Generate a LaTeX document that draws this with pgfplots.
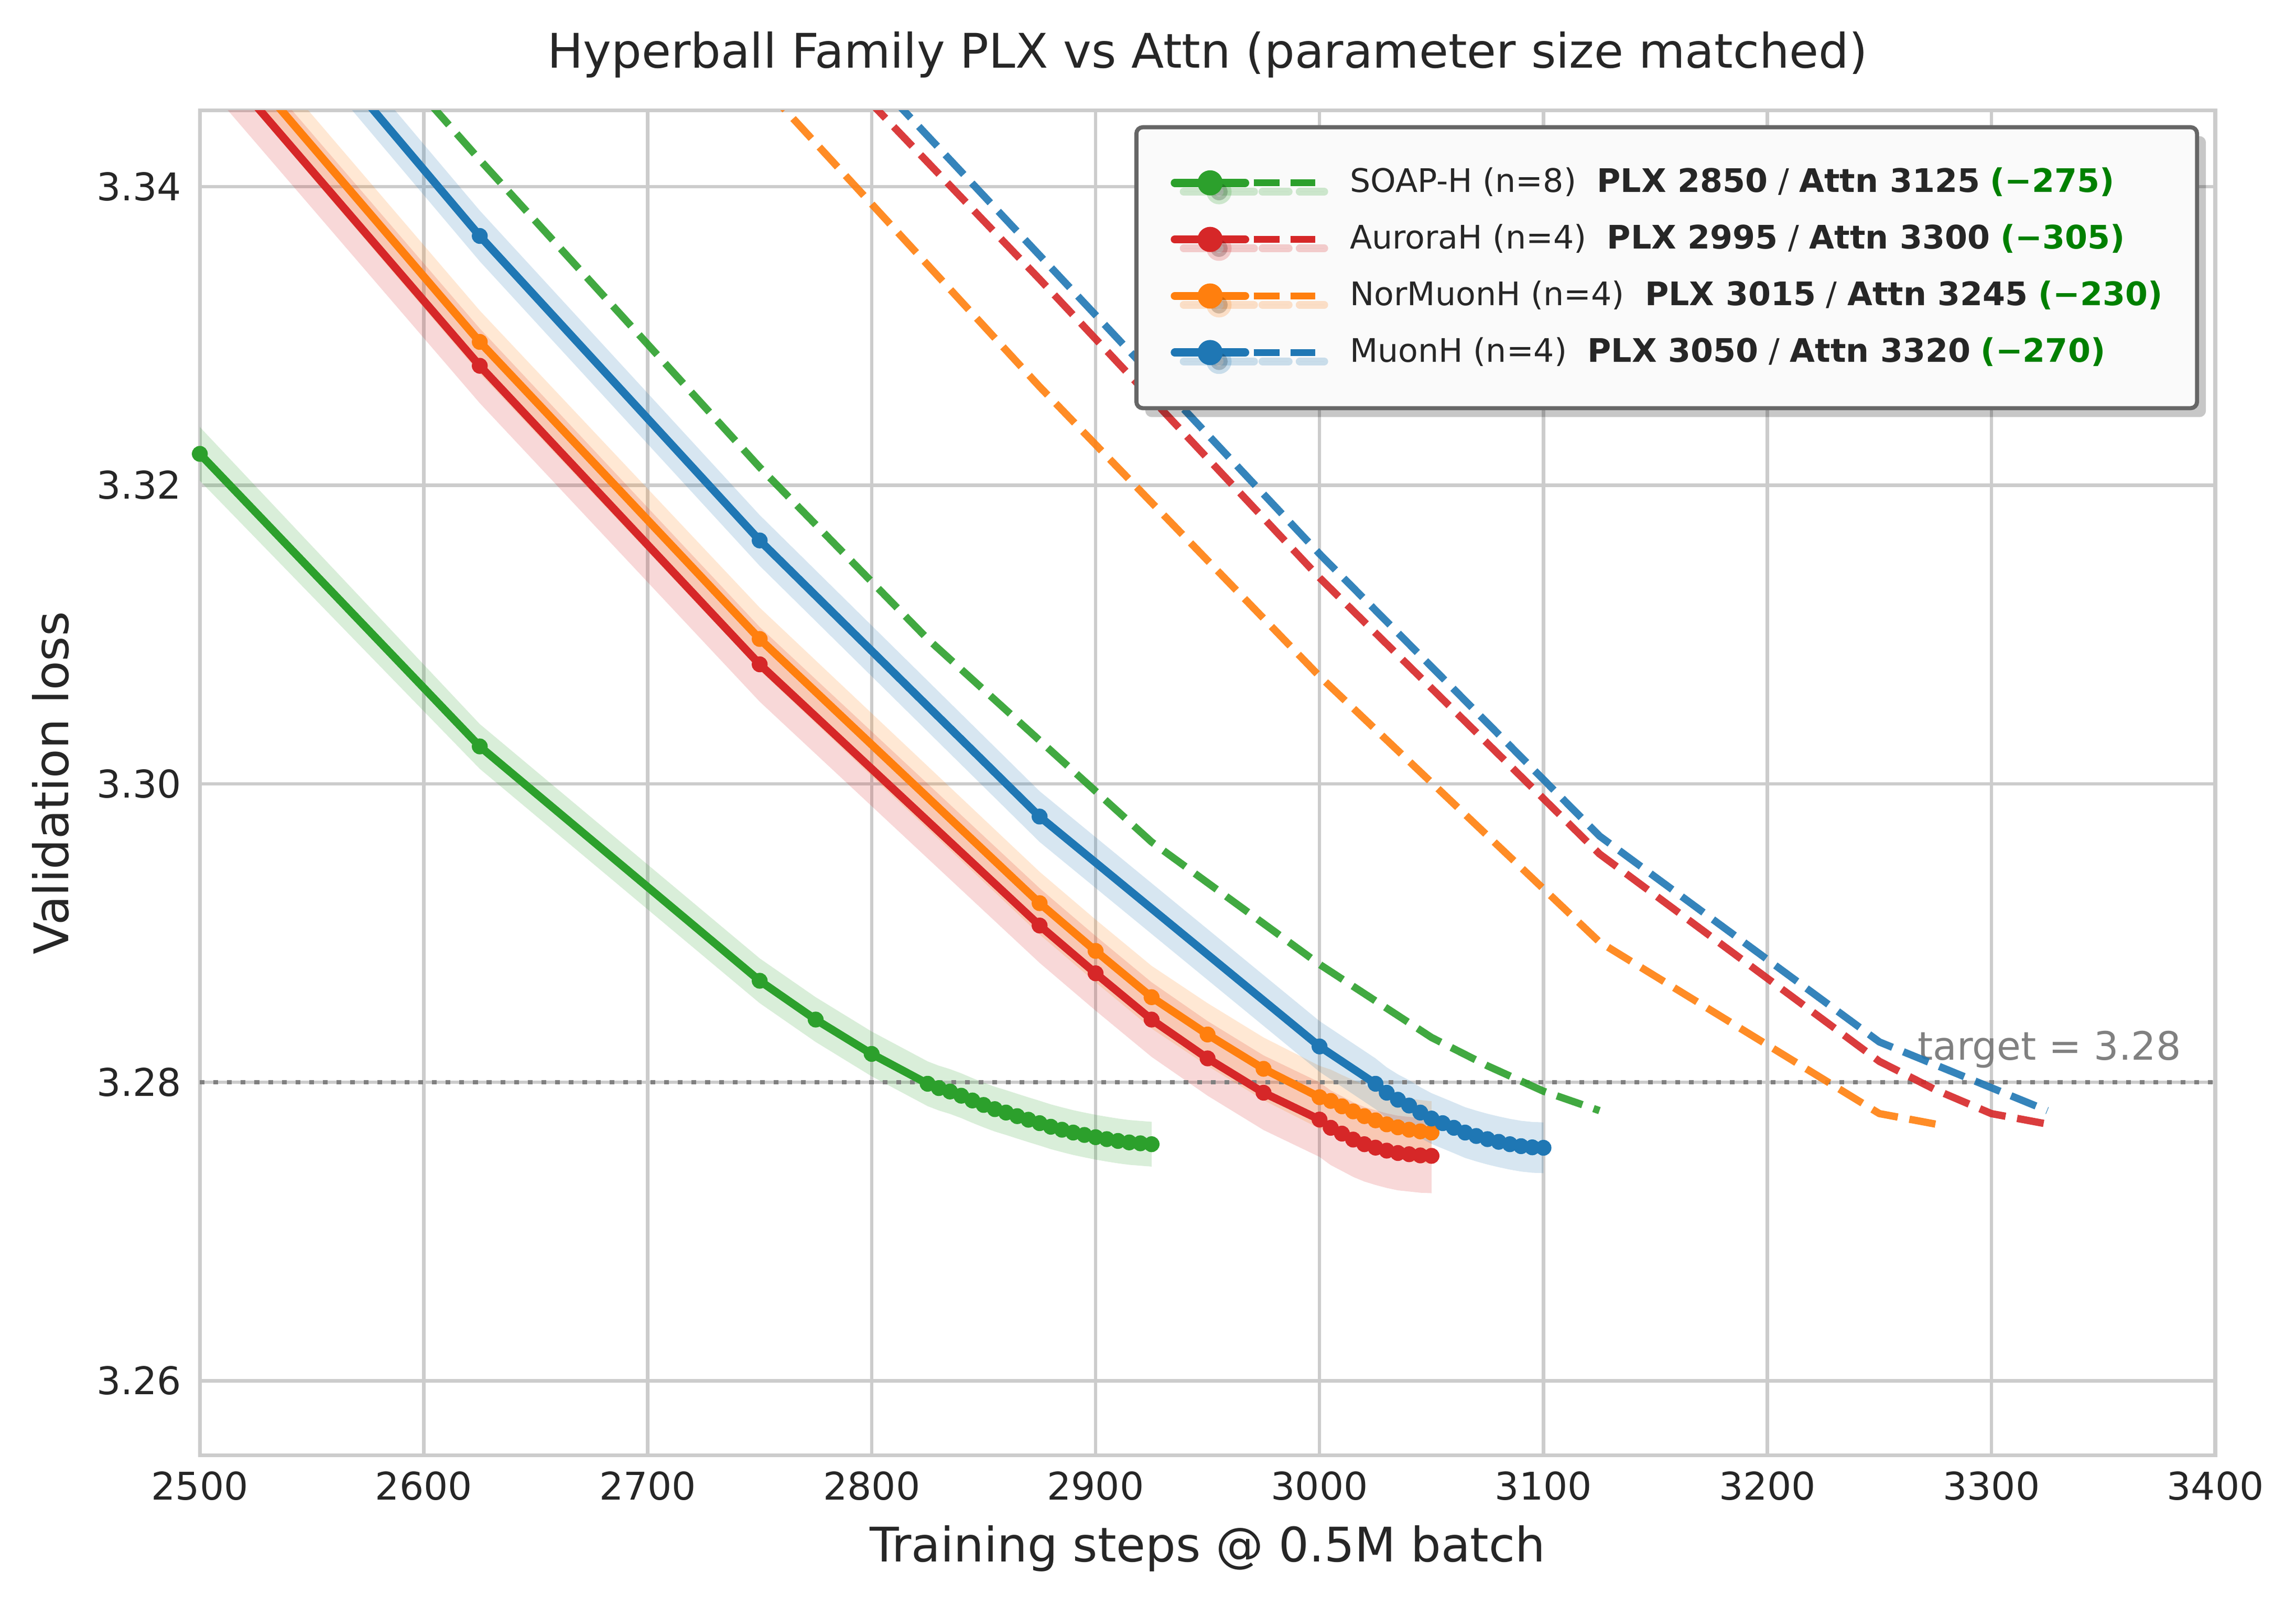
\documentclass[border=0pt]{standalone}
\usepackage{fontspec}
\setmainfont{DejaVu Sans}
\usepackage{pgfplots}
\usepackage{pgfplotstable}
\pgfplotsset{compat=1.18}
\usepgfplotslibrary{fillbetween}
\usetikzlibrary{shadows}
\definecolor{cgreen}{HTML}{2CA02C}
\definecolor{cred}{HTML}{D62728}
\definecolor{corange}{HTML}{FF7F0E}
\definecolor{cblue}{HTML}{1F77B4}
\definecolor{okgreen}{HTML}{008000}
\definecolor{txt}{HTML}{262626}
\definecolor{gridc}{HTML}{CCCCCC}
\definecolor{tgray}{HTML}{808080}

% PLX runs: step, mean, band low, band high
\pgfplotstableread{
s m lo hi
2500 3.3221 3.3203 3.3239
2625 3.3025 3.3010 3.3040
2750 3.2868 3.2853 3.2883
2775 3.2842 3.2827 3.2857
2800 3.2819 3.2804 3.2834
2825 3.2799 3.2784 3.2814
2830 3.27961 3.27811 3.28111
2835 3.27938 3.27788 3.28088
2840 3.27910 3.27760 3.28060
2845 3.27878 3.27728 3.28028
2850 3.27848 3.27698 3.27998
2855 3.27820 3.27670 3.27970
2860 3.27797 3.27647 3.27947
2865 3.27773 3.27623 3.27923
2870 3.27749 3.27599 3.27899
2875 3.27726 3.27576 3.27876
2880 3.27702 3.27552 3.27852
2885 3.27682 3.27532 3.27832
2890 3.27663 3.27513 3.27813
2895 3.27647 3.27497 3.27797
2900 3.27632 3.27482 3.27782
2905 3.27619 3.27469 3.27769
2910 3.27607 3.27457 3.27757
2915 3.27597 3.27447 3.27747
2920 3.27591 3.27441 3.27741
2925 3.27585 3.27435 3.27735
}\soapplx

\pgfplotstableread{
s m lo hi
2500 3.3498 3.3473 3.3523
2625 3.3280 3.3255 3.3305
2750 3.3080 3.3055 3.3105
2875 3.2905 3.2880 3.2930
2900 3.2873 3.2848 3.2898
2925 3.2842 3.2817 3.2867
2950 3.2816 3.2791 3.2841
2975 3.2793 3.2768 3.2818
3000 3.2775 3.2750 3.2800
3005 3.27695 3.27445 3.27945
3010 3.27656 3.27406 3.27906
3015 3.27616 3.27366 3.27866
3020 3.27585 3.27335 3.27835
3025 3.27562 3.27312 3.27812
3030 3.27542 3.27292 3.27792
3035 3.27526 3.27276 3.27776
3040 3.27518 3.27268 3.27768
3045 3.27510 3.27260 3.27760
3050 3.27507 3.27257 3.27757
}\auroraplx

\pgfplotstableread{
s m lo hi
2500 3.3515 3.3494 3.3536
2625 3.3296 3.3275 3.3317
2750 3.3097 3.3076 3.3118
2875 3.2920 3.2899 3.2941
2900 3.2888 3.2867 3.2909
2925 3.2857 3.2836 3.2878
2950 3.2832 3.2811 3.2853
2975 3.2809 3.2788 3.2830
3000 3.2790 3.2769 3.2811
3005 3.27875 3.27665 3.28085
3010 3.27839 3.27629 3.28049
3015 3.27805 3.27595 3.28015
3020 3.27773 3.27563 3.27983
3025 3.27745 3.27535 3.27955
3030 3.27718 3.27508 3.27928
3035 3.27698 3.27488 3.27908
3040 3.27682 3.27472 3.27892
3045 3.27671 3.27461 3.27881
3050 3.27663 3.27453 3.27873
}\normuonplx

\pgfplotstableread{
s m lo hi
2500 3.3589 3.3572 3.3606
2625 3.3367 3.3350 3.3384
2750 3.3163 3.3146 3.3180
2875 3.2978 3.2961 3.2995
3000 3.2824 3.2807 3.2841
3025 3.2799 3.2782 3.2816
3030 3.2793 3.2776 3.2810
3035 3.27883 3.27713 3.28053
3040 3.27844 3.27674 3.28014
3045 3.27797 3.27627 3.27967
3050 3.27757 3.27587 3.27927
3055 3.27726 3.27556 3.27896
3060 3.27695 3.27525 3.27865
3065 3.27663 3.27493 3.27833
3070 3.27640 3.27470 3.27810
3075 3.27619 3.27449 3.27789
3080 3.27601 3.27431 3.27771
3085 3.27585 3.27415 3.27755
3090 3.27572 3.27402 3.27742
3095 3.27564 3.27394 3.27734
3100 3.27561 3.27391 3.27731
}\muonplx

% Attn baselines
\pgfplotstableread{
s m
2500 3.3630
2625 3.3418
2750 3.3212
2825 3.3097
2925 3.2961
3000 3.2879
3050 3.2830
3075 3.2811
3100 3.2794
3125 3.2781
}\soapattn

\pgfplotstableread{
s m
2750 3.3534
2875 3.3338
3000 3.3138
3125 3.2953
3250 3.2814
3275 3.2795
3300 3.2779
3325 3.2772
}\auroraattn

\pgfplotstableread{
s m
2625 3.3676
2750 3.3470
2875 3.3266
3000 3.3072
3125 3.2894
3250 3.2779
3275 3.2772
}\normuonattn

\pgfplotstableread{
s m
2750 3.3554
2875 3.3354
3000 3.3154
3125 3.2965
3250 3.2827
3325 3.2781
}\muonattn

\pgfplotsset{
  hleg/.style={legend image code/.code={
    \draw[line width=2.6pt, line cap=round, color=#1] (1.3pt,0pt) -- (23.4pt,0pt);
    \fill[color=#1] (12.4pt,0pt) circle[radius=2.7pt];
    \draw[line width=2.2pt, line cap=butt, color=#1] (26.1pt,0pt) -- (34.3pt,0pt);
    \draw[line width=2.2pt, line cap=butt, color=#1] (37.8pt,0pt) -- (45.5pt,0pt);
  }},
  plxline/.style={color=#1, line width=2.5pt, line cap=round, line join=round, mark=*, mark size=2.3pt, mark options={solid, fill=#1, draw=#1, line width=0.4pt}},
  attnline/.style={color=#1, draw opacity=0.9, line width=2.3pt, line join=round, dash pattern=on 8.5pt off 3.7pt, forget plot},
}

\begin{document}
\begin{tikzpicture}
\begin{axis}[
  at={(0pt,0pt)}, anchor=south west,
  scale only axis, width=634.4pt, height=423.2pt,
  xmin=2500, xmax=3400, ymin=3.2550, ymax=3.3451,
  xtick={2500,2600,...,3400},
  ytick={3.26,3.28,3.30,3.32,3.34},
  /pgf/number format/assume math mode=true,
  xticklabel style={/pgf/number format/1000 sep={}, anchor=base, yshift=-14pt, inner sep=0pt},
  yticklabel style={/pgf/number format/fixed, /pgf/number format/fixed zerofill, /pgf/number format/precision=2, anchor=east, xshift=-5.6pt, inner sep=0pt},
  tick label style={font=\fontsize{12}{14}\selectfont, text=txt},
  major tick length=0pt,
  tick style={draw=none},
  grid=major,
  major grid style={color=gridc, line width=1.05pt},
  axis line style={color=gridc, line width=1.2pt},
  title={Hyperball Family PLX vs Attn (parameter size matched)},
  title style={at={(0.5,1)}, anchor=base, yshift=7.4pt, inner sep=0pt, font=\fontsize{15}{18}\selectfont, text=txt},
  xlabel={Training steps @ 0.5M batch},
  xlabel style={at={(0.5,0)}, anchor=base, yshift=-33.4pt, inner sep=0pt, font=\fontsize{15}{18}\selectfont, text=txt},
  legend cell align=left,
  legend style={at={(1,1)}, anchor=north east, xshift=-5.1pt, yshift=-4.6pt,
    draw=black!60, line width=1.3pt, fill=white!98!black, rounded corners=2pt,
    drop shadow={shadow xshift=2.8pt, shadow yshift=-2.8pt, fill=black, opacity=0.22},
    font=\fontsize{10.2}{12.2}\selectfont, text=txt,
    inner xsep=10.8pt, inner ysep=12.1pt, row sep=7.0pt,
    nodes={inner sep=0pt, text height=8.4pt, text depth=2.4pt},
    /tikz/every odd column/.append style={column sep=9.8pt}},
]

% uncertainty bands
\addplot[draw=none, name path=gl, forget plot] table[x=s, y=lo]{\soapplx};
\addplot[draw=none, name path=gh, forget plot] table[x=s, y=hi]{\soapplx};
\addplot[fill=cgreen, fill opacity=0.18, draw=none, forget plot] fill between[of=gl and gh];
\addplot[draw=none, name path=rl, forget plot] table[x=s, y=lo]{\auroraplx};
\addplot[draw=none, name path=rh, forget plot] table[x=s, y=hi]{\auroraplx};
\addplot[fill=cred, fill opacity=0.18, draw=none, forget plot] fill between[of=rl and rh];
\addplot[draw=none, name path=ol, forget plot] table[x=s, y=lo]{\normuonplx};
\addplot[draw=none, name path=oh, forget plot] table[x=s, y=hi]{\normuonplx};
\addplot[fill=corange, fill opacity=0.18, draw=none, forget plot] fill between[of=ol and oh];
\addplot[draw=none, name path=bl, forget plot] table[x=s, y=lo]{\muonplx};
\addplot[draw=none, name path=bh, forget plot] table[x=s, y=hi]{\muonplx};
\addplot[fill=cblue, fill opacity=0.18, draw=none, forget plot] fill between[of=bl and bh];

% target line
\addplot[tgray, line width=1.4pt, dash pattern=on 1.5pt off 2.8pt, forget plot] coordinates {(2500,3.28) (3400,3.28)};
\node[anchor=base east, inner sep=0pt, text=tgray, font=\fontsize{12.3}{14}\selectfont] at (axis cs:3385,3.2815) {target = 3.28};

% Attn baselines (dashed)
\addplot[attnline=cgreen] table[x=s, y=m]{\soapattn};
\addplot[attnline=cred] table[x=s, y=m]{\auroraattn};
\addplot[attnline=corange] table[x=s, y=m]{\normuonattn};
\addplot[attnline=cblue] table[x=s, y=m]{\muonattn};

% PLX runs (solid with markers)
\addplot[plxline=cgreen, hleg=cgreen] table[x=s, y=m]{\soapplx};
\addlegendentry{SOAP-H (n=8)\ \ \textbf{PLX 2850} / \textbf{Attn 3125} \textcolor{okgreen}{\textbf{(−275)}}}
\addplot[plxline=cred, hleg=cred] table[x=s, y=m]{\auroraplx};
\addlegendentry{AuroraH (n=4)\ \ \textbf{PLX 2995} / \textbf{Attn 3300} \textcolor{okgreen}{\textbf{(−305)}}}
\addplot[plxline=corange, hleg=corange] table[x=s, y=m]{\normuonplx};
\addlegendentry{NorMuonH (n=4)\ \ \textbf{PLX 3015} / \textbf{Attn 3245} \textcolor{okgreen}{\textbf{(−230)}}}
\addplot[plxline=cblue, hleg=cblue] table[x=s, y=m]{\muonplx};
\addlegendentry{MuonH (n=4)\ \ \textbf{PLX 3050} / \textbf{Attn 3320} \textcolor{okgreen}{\textbf{(−270)}}}
\end{axis}
\node[rotate=90, anchor=base, inner sep=0pt, text=txt, font=\fontsize{15}{18}\selectfont] at (-41.3pt,211.6pt) {Validation loss};
\pgfresetboundingbox
\path[use as bounding box] (-62.9pt,-47pt) rectangle (659.8pt,458pt);
\end{tikzpicture}
\end{document}
